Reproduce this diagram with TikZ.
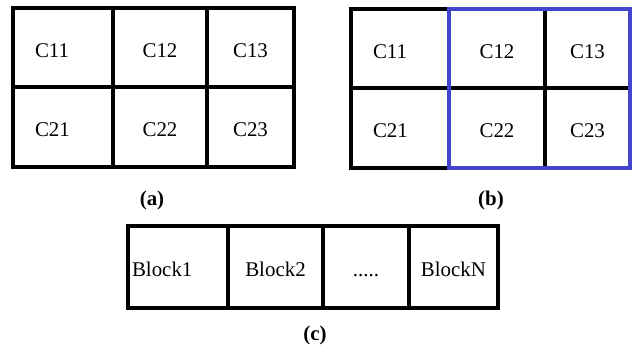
\documentclass[tikz,border=0pt]{standalone}
\usepackage{fontspec}
\setmainfont{Liberation Serif}
\definecolor{selblue}{RGB}{68,68,204}
\begin{document}
\begin{tikzpicture}[x=1bp,y=-1bp,
  cell/.style={draw=black, line width=3.2bp, rectangle, inner sep=0pt, outer sep=0pt,
    anchor=north west, font=\fontsize{21}{23}\selectfont, text height=19bp, text depth=0pt},
  lcell/.style={cell, align=left, inner xsep=#1},
  frame/.style={draw=black, line width=4.4bp},
  sel/.style={draw=selblue, line width=3.4bp},
  caption/.style={font=\fontsize{21}{24}\selectfont\bfseries, inner sep=0pt}]
\useasboundingbox[fill=white] (0,0) rectangle (633,346);

% (a) two-by-three grid
\node[lcell=22bp, text width=56bp, minimum height=79bp] (a11) at (13,8) {C11};
\node[cell, minimum width=94bp, minimum height=79bp] (a12) at (113,8) {C12};
\node[cell, minimum width=87bp, minimum height=79bp] (a13) at (207,8) {C13};
\node[lcell=22bp, text width=56bp, minimum height=80bp] (a21) at (13,87) {C21};
\node[cell, minimum width=94bp, minimum height=80bp] (a22) at (113,87) {C22};
\node[cell, minimum width=87bp, minimum height=80bp] (a23) at (207,87) {C23};
\draw[frame] (a11.north west) rectangle (a23.south east);
\node[caption] (capa) at (152,200) {(a)};

% (b) same grid with the right two columns selected
\node[lcell=22bp, text width=54bp, minimum height=79bp] (b11) at (351,9) {C11};
\node[cell, minimum width=96bp, minimum height=79bp] (b12) at (449,9) {C12};
\node[cell, minimum width=85bp, minimum height=79bp] (b13) at (545,9) {C13};
\node[lcell=22bp, text width=54bp, minimum height=80bp] (b21) at (351,88) {C21};
\node[cell, minimum width=96bp, minimum height=80bp] (b22) at (449,88) {C22};
\node[cell, minimum width=85bp, minimum height=80bp] (b23) at (545,88) {C23};
\draw[frame] (b12.north west) -- (b11.north west) -- (b21.south west) -- (b22.south west);
\draw[sel] (b12.north west) rectangle (b23.south east);
\node[caption] (capb) at (491,200) {(b)};

% (c) row of blocks
\node[lcell=4bp, text width=92bp, minimum height=82bp] (k1) at (128,226) {Block1};
\node[cell, minimum width=95bp, minimum height=82bp] (k2) at (228,226) {Block2};
\node[cell, minimum width=86bp, minimum height=82bp] (k3) at (323,226) {.....};
\node[cell, minimum width=89bp, minimum height=82bp] (k4) at (409,226) {BlockN};
\draw[frame] (k1.north west) rectangle (k4.south east);
\node[caption] (capc) at (315,335) {(c)};
\end{tikzpicture}
\end{document}
